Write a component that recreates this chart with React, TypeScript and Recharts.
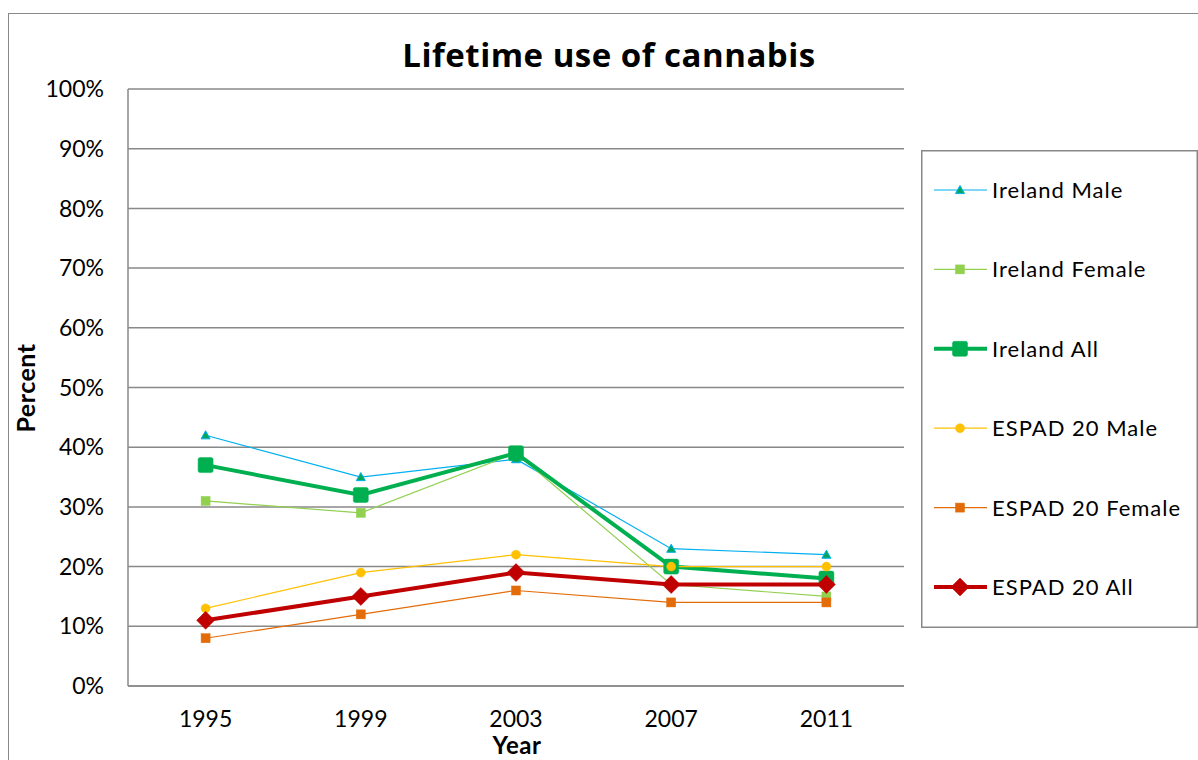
import React from 'react'
import { LineChart, Line, XAxis, YAxis, CartesianGrid } from 'recharts'

const years = ['1995', '1999', '2003', '2007', '2011']
const irelandMale = [42, 35, 38, 23, 22]
const irelandFemale = [31, 29, 39, 17, 15]
const irelandAll = [37, 32, 39, 20, 18]
const espadMale = [13, 19, 22, 20, 20]
const espadFemale = [8, 12, 16, 14, 14]
const espadAll = [11, 15, 19, 17, 17]
const yTicks = [0, 10, 20, 30, 40, 50, 60, 70, 80, 90, 100]

const FONT = 'Lato, "Open Sans", sans-serif'
const GRID = '#888888'

type Shape = 'triangle' | 'square' | 'circle' | 'diamond'

function marker(shape: Shape, size: number, fill: string, stroke: string, cx: number, cy: number, key?: string | number) {
  const h = size / 2
  if (shape === 'triangle') {
    return <polygon key={key} points={`${cx},${cy - h} ${cx + h},${cy + h * 0.8} ${cx - h},${cy + h * 0.8}`} fill={fill} stroke={stroke} strokeWidth={1} />
  }
  if (shape === 'square') {
    return <rect key={key} x={cx - h} y={cy - h} width={size} height={size} rx={size > 12 ? 2 : 0} fill={fill} stroke={stroke} strokeWidth={0.5} />
  }
  if (shape === 'circle') {
    return <circle key={key} cx={cx} cy={cy} r={h} fill={fill} stroke={stroke} strokeWidth={0.5} />
  }
  return <polygon key={key} points={`${cx},${cy - h} ${cx + h},${cy} ${cx},${cy + h} ${cx - h},${cy}`} fill={fill} stroke={stroke} strokeWidth={0.5} />
}

const SERIES = [
  { key: 'irelandMale', name: 'Ireland Male', color: '#00B0F0', fill: '#00A65A', width: 1.2, shape: 'triangle' as Shape, size: 9 },
  { key: 'irelandFemale', name: 'Ireland Female', color: '#92D050', fill: '#92D050', width: 1.2, shape: 'square' as Shape, size: 9 },
  { key: 'irelandAll', name: 'Ireland All', color: '#00B050', fill: '#00B050', width: 4, shape: 'square' as Shape, size: 15 },
  { key: 'espadMale', name: 'ESPAD 20 Male', color: '#FFC000', fill: '#FFC000', width: 1.2, shape: 'circle' as Shape, size: 9 },
  { key: 'espadFemale', name: 'ESPAD 20 Female', color: '#E36C09', fill: '#E36C09', width: 1.2, shape: 'square' as Shape, size: 9 },
  { key: 'espadAll', name: 'ESPAD 20 All', color: '#C00000', fill: '#C00000', width: 4, shape: 'diamond' as Shape, size: 18 },
]

const data = years.map((year, i) => ({
  year,
  irelandMale: irelandMale[i],
  irelandFemale: irelandFemale[i],
  irelandAll: irelandAll[i],
  espadMale: espadMale[i],
  espadFemale: espadFemale[i],
  espadAll: espadAll[i],
}))

export default function App() {
  return (
    <div style={{ position: 'absolute', left: 0, top: 0, width: 1198, height: 760, overflow: 'hidden', background: '#fff', fontFamily: FONT }}>
      {/* outer chart border */}
      <div style={{ position: 'absolute', left: 8, top: 13, width: 1200, height: 800, border: `1.5px solid ${GRID}`, boxSizing: 'border-box' }} />

      <div style={{ position: 'absolute', left: 0, top: 0 }}>
        <LineChart width={910} height={760} data={data} margin={{ top: 89, right: 6, left: 8, bottom: 34 }}>
          <CartesianGrid vertical={false} stroke={GRID} strokeWidth={1.5} />
          <XAxis
            dataKey="year"
            scale="band"
            height={40}
            axisLine={{ stroke: GRID, strokeWidth: 1.5 }}
            tickLine={false}
            tickSize={0}
            tickMargin={25}
            tick={{ fill: '#000', fontSize: 23, fontFamily: FONT }}
          />
          <YAxis
            width={120}
            domain={[0, 100]}
            ticks={yTicks}
            interval={0}
            tickFormatter={(v: number) => `${v}%`}
            axisLine={{ stroke: GRID, strokeWidth: 1.5 }}
            tickLine={false}
            tickSize={0}
            tickMargin={24}
            tick={{ fill: '#000', fontSize: 23, fontFamily: FONT }}
          />
          {SERIES.map(s => (
            <Line
              key={s.key}
              dataKey={s.key}
              name={s.name}
              stroke={s.color}
              strokeWidth={s.width}
              isAnimationActive={false}
              activeDot={false}
              dot={(p: { cx?: number; cy?: number; index?: number }) =>
                p.cx == null || p.cy == null
                  ? <g key={p.index} />
                  : marker(s.shape, s.size, s.fill, s.color, p.cx, p.cy, p.index)
              }
            />
          ))}
        </LineChart>
      </div>

      {/* titles and legend */}
      <svg width={1198} height={760} style={{ position: 'absolute', left: 0, top: 0, pointerEvents: 'none' }}>
        <text x={609} y={67} textAnchor="middle" fontSize={33} fontWeight={700} fontFamily='"Open Sans", Lato, sans-serif' letterSpacing={0.5}>
          Lifetime use of cannabis
        </text>
        <text transform="translate(35,388) rotate(-90)" textAnchor="middle" fontSize={25} fontWeight={700} fontFamily={FONT} letterSpacing={0.5}>
          Percent
        </text>
        <text x={517} y={754} textAnchor="middle" fontSize={24} fontWeight={700} fontFamily={FONT} letterSpacing={0.5}>
          Year
        </text>

        <rect x={921.75} y={150.75} width={275.5} height={476.5} fill="#fff" stroke={GRID} strokeWidth={1.5} />
        {SERIES.map((s, i) => {
          const y = 190 + i * 79.4
          return (
            <g key={s.key}>
              <line x1={934} x2={987} y1={y} y2={y} stroke={s.color} strokeWidth={s.width} />
              {marker(s.shape, s.size, s.fill, s.color, 960, y)}
              <text x={992} y={y + 8} fontSize={22} fontFamily={FONT} letterSpacing={1}>{s.name}</text>
            </g>
          )
        })}
      </svg>
    </div>
  )
}
